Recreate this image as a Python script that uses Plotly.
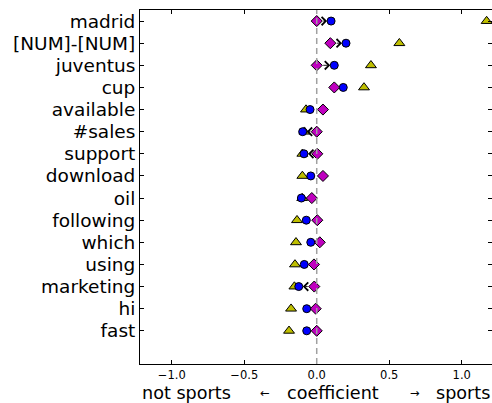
import plotly.graph_objects as go

words = ["madrid", "[NUM]-[NUM]", "juventus", "cup", "available", "#sales",
         "support", "download", "oil", "following", "which", "using",
         "marketing", "hi", "fast"]
tri_vals = [1.172, 0.570, 0.374, 0.326, -0.074, -0.085, -0.099, -0.099,
            -0.100, -0.136, -0.143, -0.150, -0.154, -0.177, -0.191]
circ_vals = [0.099, 0.202, 0.121, 0.183, -0.046, -0.097, -0.088, -0.041,
             -0.106, -0.072, -0.041, -0.086, -0.124, -0.069, -0.069]
diam_vals = [0.000, 0.094, 0.000, 0.121, 0.043, 0.000, 0.004, 0.043,
             -0.034, 0.004, 0.021, -0.019, -0.017, -0.007, 0.000]
x_ticks = [-1.0, -0.5, 0.0, 0.5, 1.0]
label_parts = ["not sports", "\u2190", "coefficient", "\u2192", "sports"]

rows = list(range(len(words)))
edge = dict(color="black", width=1)
font = "DejaVu Sans, Liberation Sans, sans-serif"

fig = go.Figure()
fig.add_trace(go.Scatter(x=tri_vals, y=rows, mode="markers",
                         marker=dict(symbol="triangle-up", size=9.5, color="#bfbf00", line=edge),
                         showlegend=False))
fig.add_trace(go.Scatter(x=diam_vals, y=rows, mode="markers",
                         marker=dict(symbol="diamond", size=8.5, color="#bf00bf", line=edge),
                         showlegend=False))
fig.add_trace(go.Scatter(x=circ_vals, y=rows, mode="markers",
                         marker=dict(symbol="circle", size=8, color="#0000ff", line=edge),
                         showlegend=False))

annotations = []
for r, d, c in zip(rows, diam_vals, circ_vals):
    annotations.append(dict(x=c, y=r, ax=d, ay=r, xref="x", yref="y", axref="x", ayref="y",
                            text="", showarrow=True, arrowhead=4, arrowsize=1.8, arrowwidth=0.9,
                            arrowcolor="black", standoff=4, startstandoff=5))

# x-axis label pieces (centres in paper fraction of plot width)
label_pos = [0.1321, 0.3551, 0.5497, 0.7813, 0.9176]
label_size = [17.6, 11.5, 17.6, 11.5, 17.6]
for txt, px, fs in zip(label_parts, label_pos, label_size):
    annotations.append(dict(x=px, y=-0.082, xref="paper", yref="paper", text=txt, showarrow=False,
                            xanchor="center", yanchor="middle",
                            font=dict(size=fs, color="black", family=font)))

fig.add_shape(type="line", xref="x", yref="paper", x0=0, x1=0, y0=0, y1=1,
              line=dict(color="#a0a0a0", width=1.5, dash="6px,4px"), layer="above")

fig.update_layout(
    width=492, height=403,
    margin=dict(l=140, r=0, t=10, b=39),
    plot_bgcolor="white", paper_bgcolor="white",
    font=dict(family=font, color="black"),
    annotations=annotations,
    xaxis=dict(range=[-1.219, 1.209], tickvals=x_ticks,
               tickformat=".1f", ticks="inside", ticklen=4, tickcolor="black",
               showline=True, linecolor="black", linewidth=1, mirror="ticks",
               showgrid=False, zeroline=False, tickfont=dict(size=11.5)),
    yaxis=dict(range=[15.5, -0.5], tickvals=rows, ticktext=words,
               ticks="inside", ticklen=4, tickcolor="black",
               showline=True, linecolor="black", linewidth=1, mirror="ticks",
               showgrid=False, zeroline=False, tickfont=dict(size=18.5)),
)

fig.write_html("out.html")
